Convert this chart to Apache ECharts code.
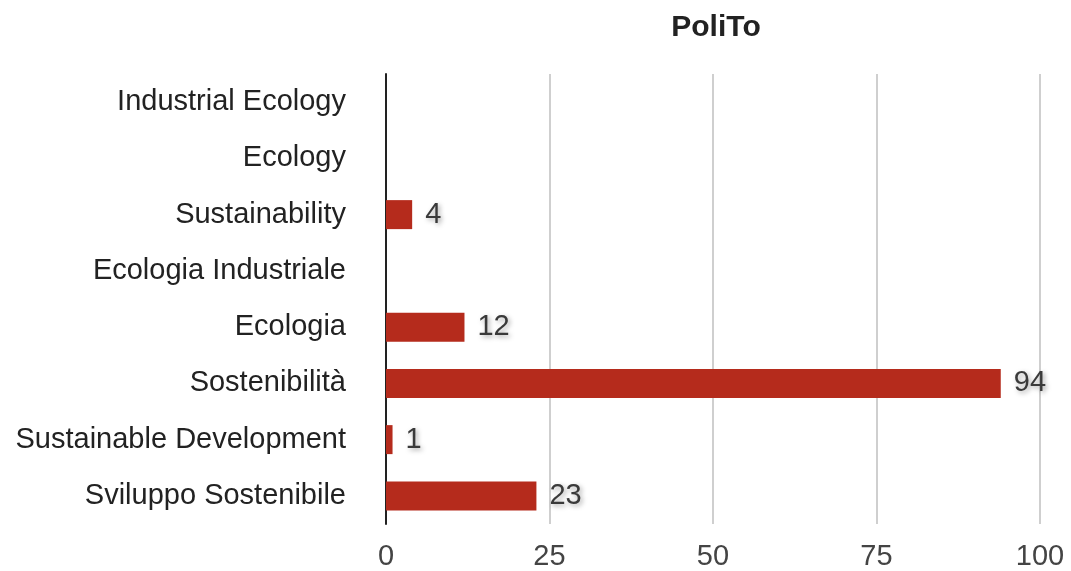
<!DOCTYPE html>
<html>
<head>
<meta charset="utf-8">
<style>
  html, body { margin: 0; padding: 0; background: #ffffff; }
  #chart { width: 1071px; height: 571px; }
</style>
<script src="https://cdn.jsdelivr.net/npm/echarts@6/dist/echarts.min.js"></script>
</head>
<body>
<div id="chart"></div>
<script>
// Search-term counts for PoliTo, listed top to bottom
const categories = [
  'Industrial Ecology',
  'Ecology',
  'Sustainability',
  'Ecologia Industriale',
  'Ecologia',
  'Sostenibilità',
  'Sustainable Development',
  'Sviluppo Sostenibile'
];
const counts = [0, 0, 4, 0, 12, 94, 1, 23];
const xTicks = [0, 25, 50, 75, 100];

const FONT = '"Liberation Sans", Arial, Helvetica, sans-serif';

const chart = echarts.init(document.getElementById('chart'), null, { renderer: 'canvas' });

chart.setOption({
  backgroundColor: '#ffffff',
  animation: false,
  title: {
    text: 'PoliTo',
    left: 711,
    textAlign: 'center',
    top: 8,
    textStyle: { fontFamily: FONT, fontSize: 30, fontWeight: 'bold', color: '#222222' }
  },
  grid: { left: 386, right: 31, top: 74, bottom: 46, containLabel: false },
  xAxis: {
    type: 'value',
    min: xTicks[0],
    max: xTicks[xTicks.length - 1],
    interval: xTicks[1] - xTicks[0],
    axisLine: { show: false },
    axisTick: { show: false },
    axisLabel: {
      margin: 18,
      fontFamily: FONT,
      fontSize: 29,
      color: '#444444'
    },
    splitLine: { show: true, lineStyle: { color: '#cfcfcf', width: 2 } }
  },
  yAxis: {
    type: 'category',
    inverse: true,
    data: categories,
    axisLine: { show: true, lineStyle: { color: '#222222', width: 2 } },
    axisTick: { show: false },
    axisLabel: {
      margin: 40,
      fontFamily: FONT,
      fontSize: 29,
      color: '#222222'
    },
    splitLine: { show: false }
  },
  series: [{
    type: 'bar',
    data: counts,
    barWidth: 29,
    itemStyle: { color: '#b52b1c' },
    label: {
      show: true,
      position: 'right',
      distance: 13,
      fontFamily: FONT,
      fontSize: 29,
      color: '#3a3a3a',
      textShadowColor: 'rgba(0,0,0,0.35)',
      textShadowBlur: 5,
      textShadowOffsetX: 2,
      textShadowOffsetY: 2,
      formatter: p => (p.value === 0 ? '' : String(p.value))
    }
  }]
});
</script>
</body>
</html>
